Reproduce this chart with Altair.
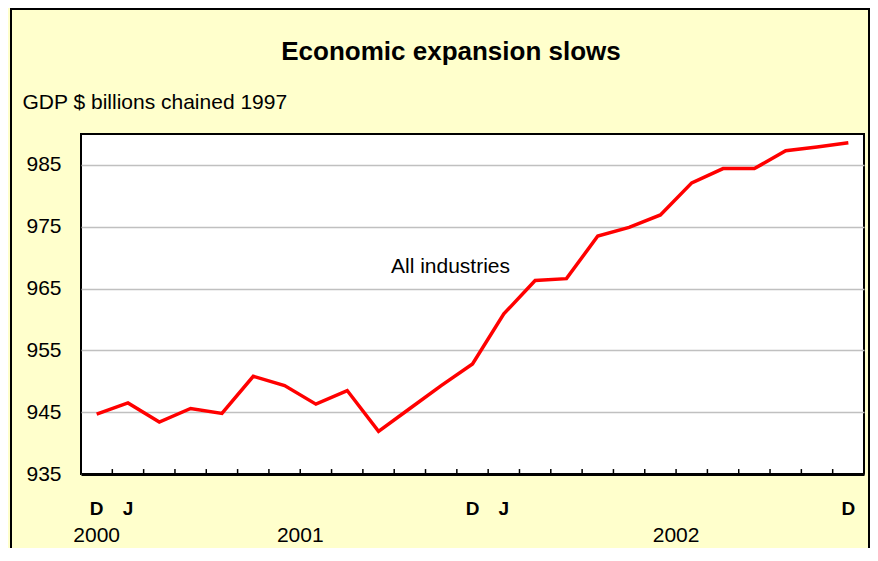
import altair as alt
import pandas as pd

# ---- data ----
gdp = [944.7, 946.5, 943.4, 945.6, 944.8, 950.8, 949.3, 946.3, 948.5, 941.9,
       945.6, 949.3, 952.8, 960.9, 966.3, 966.6, 973.5, 974.9, 976.9, 982.1,
       984.4, 984.4, 987.3, 987.9, 988.6]
month_idx = list(range(len(gdp)))
month_pos = [0, 1, 12, 13, 24]
month_labels = ["D", "J", "D", "J", "D"]
year_pos = [0, 6.5, 18.5]
year_labels = ["2000", "2001", "2002"]
y_ticks = [935, 945, 955, 965, 975, 985]
title_text = "Economic expansion slows"
subtitle_text = "GDP $ billions chained 1997"
annotation_text = "All industries"

FONT = "Liberation Sans"
W, H = 783, 340

df = pd.DataFrame({"idx": month_idx, "gdp": gdp})
xscale = alt.Scale(domain=[-0.5, 24.5], nice=False)
yscale = alt.Scale(domain=[935, 990], nice=False, zero=False)
tick_df = pd.DataFrame({"idx": [i + 0.5 for i in range(len(gdp) - 1)],
                        "gdp": [935] * (len(gdp) - 1), "y1": [935.8] * (len(gdp) - 1)})

line = alt.Chart(df).mark_line(color="#FF0000", strokeWidth=3.5).encode(
    x=alt.X("idx:Q", scale=xscale,
            axis=alt.Axis(orient="bottom", labels=False, ticks=False, title=None,
                          grid=False, domainColor="black", domainWidth=3)),
    y=alt.Y("gdp:Q", scale=yscale,
            axis=alt.Axis(values=y_ticks, title=subtitle_text, titleAngle=0,
                          titleAlign="left", titleBaseline="alphabetic",
                          titleX=-59, titleY=-26, titleFontSize=21,
                          titleFontWeight="normal", titleFont=FONT, titleColor="black",
                          ticks=False, domain=False, labelPadding=20,
                          labelFontSize=21, labelFont=FONT, labelColor="black",
                          gridColor="#C0C0C0", gridWidth=1.5)),
)

ticks = alt.Chart(tick_df).mark_rule(color="black", strokeWidth=1.5).encode(
    x=alt.X("idx:Q", scale=xscale),
    y=alt.Y("gdp:Q", scale=yscale),
    y2="y1:Q",
)

months = alt.Chart(pd.DataFrame({"idx": month_pos, "lab": month_labels})).mark_text(
    font=FONT, fontSize=19, fontWeight="bold", color="black", baseline="alphabetic"
).encode(x=alt.X("idx:Q", scale=xscale), y=alt.value(381), text="lab:N")

years = alt.Chart(pd.DataFrame({"idx": year_pos, "lab": year_labels})).mark_text(
    font=FONT, fontSize=21, color="black", baseline="alphabetic"
).encode(x=alt.X("idx:Q", scale=xscale), y=alt.value(408), text="lab:N")

title = alt.Chart(pd.DataFrame({"t": [title_text]})).mark_text(
    font=FONT, fontSize=26, fontWeight="bold", color="black", baseline="alphabetic"
).encode(x=alt.value(370), y=alt.value(-74), text="t:N")

annot = alt.Chart(pd.DataFrame({"t": [annotation_text]})).mark_text(
    font=FONT, fontSize=21, color="black", baseline="alphabetic"
).encode(x=alt.value(369.5), y=alt.value(139), text="t:N")

border = alt.Chart(pd.DataFrame({"a": [0]})).mark_rect(
    filled=False, fillOpacity=0, stroke="black", strokeWidth=2
).encode(x=alt.value(-70), x2=alt.value(788), y=alt.value(-125), y2=alt.value(700))

chart = alt.layer(line, ticks, months, years, title, annot, border).properties(
    width=W, height=H,
    padding={"left": 73, "top": 126, "right": 6, "bottom": 74},
    autosize=alt.AutoSizeParams(type="none"),
    background="#FFFFCC",
).configure_view(stroke="black", strokeWidth=2, fill="white")

chart.save("out.html", embed_options={"renderer": "svg", "actions": False})
